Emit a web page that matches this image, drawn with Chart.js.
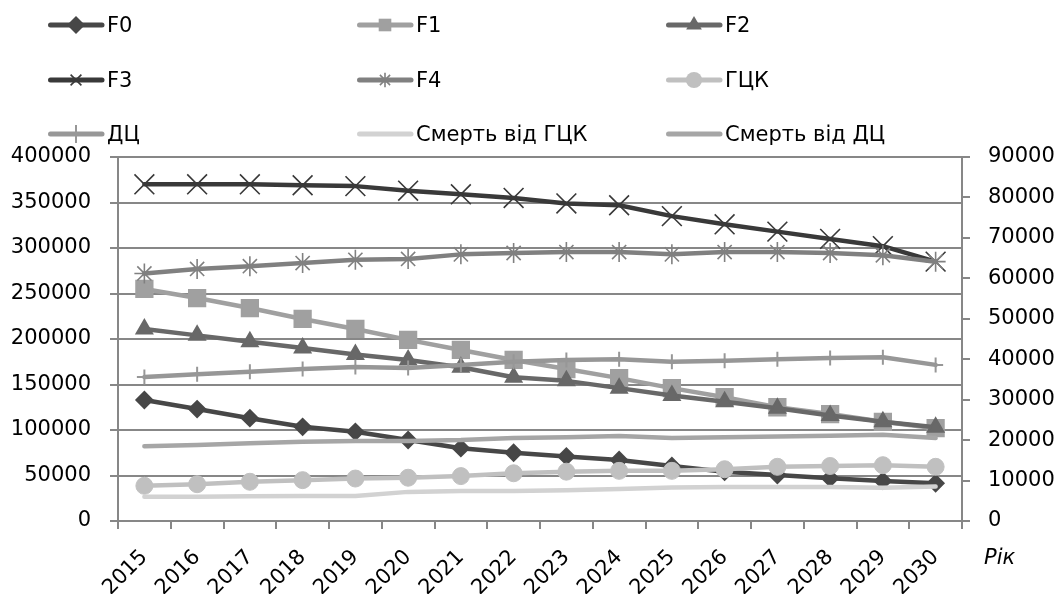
<!DOCTYPE html>
<html>
<head>
<meta charset="utf-8">
<script src="https://cdn.jsdelivr.net/npm/chart.js@4/dist/chart.umd.min.js"></script>
<style>
  html,body{margin:0;padding:0;background:#fff;}
  #wrap{position:relative;width:1057px;height:594px;font-family:"DejaVu Sans",sans-serif;}
  #c{position:absolute;left:0;top:0;}
  .leg{position:absolute;height:24px;line-height:24px;font-size:21px;color:#000;white-space:nowrap;}
  .leg svg{position:absolute;left:0;top:0;}
  .leg span{position:absolute;top:0;}
  #rik{position:absolute;left:984px;top:545px;font-size:21px;font-style:italic;color:#000;}
</style>
</head>
<body>
<div id="wrap">
  <canvas id="c" width="1057" height="594"></canvas>
  <div id="legend"></div>
  <div id="rik">Рік</div>
</div>
<script>
const years = ['2015','2016','2017','2018','2019','2020','2021','2022','2023','2024','2025','2026','2027','2028','2029','2030'];

// left axis (0 – 400000)
const F0 = [133000,123000,113000,103500,98000,89000,80000,75000,71000,67000,60500,54000,50500,47000,44000,41500];
const F1 = [255000,245000,234000,222000,211000,199000,188000,177000,167000,157000,146000,136000,125000,117500,109000,102000];
const F2 = [211000,204000,197000,190000,183000,177000,169000,158000,154000,146000,138000,131000,124000,116000,109000,103000];
const F3 = [370000,370000,370000,369000,368000,363000,359000,355000,349000,347000,335000,326000,318000,310000,302000,285000];
const F4 = [272000,277000,280000,283500,287000,288000,293000,294500,295500,295500,293000,295500,295500,294500,292000,285000];

// right axis (0 – 90000)
const GCK = [8700,9100,9700,10100,10500,10700,11100,11800,12200,12400,12400,12800,13400,13600,13800,13400];
const DC = [35600,36300,36900,37600,38100,37800,38600,39400,39800,40000,39400,39600,40000,40300,40500,38600];
const deathGCK = [6000,6000,6100,6200,6200,7200,7400,7400,7600,7900,8300,8400,8400,8400,8200,8500];
const deathDC = [18500,18800,19200,19600,19800,19800,20000,20500,20700,21000,20500,20700,20900,21100,21300,20500];

const seriesNames = ['F0','F1','F2','F3','F4','ГЦК','ДЦ','Смерть від ГЦК','Смерть від ДЦ'];
const seriesData = [F0,F1,F2,F3,F4,GCK,DC,deathGCK,deathDC];
const seriesAxis = ['y','y','y','y','y','y1','y1','y1','y1'];
const seriesColor = ['#474747','#a0a0a0','#686868','#393939','#808080','#c0c0c0','#979797','#d2d2d2','#a6a6a6'];
const seriesShape = ['rectRot','rect','triangle','crossRot','star','circle','cross',false,false];
const seriesRadius = [8,11.5,9,14,10,8.5,7.5,0,0];
const seriesPtBorder = [2,2,2,1.6,1.6,1,2,0,0];

const GRID = '#878787';
const FONT = {family:'"DejaVu Sans", sans-serif', size:21};
const plain = v => String(v);

const datasets = seriesNames.map((n,i)=>({
  label:n,
  data:seriesData[i],
  yAxisID:seriesAxis[i],
  borderColor:seriesColor[i],
  backgroundColor:seriesColor[i],
  borderWidth:4.5,
  borderCapStyle:'round',
  borderJoinStyle:'round',
  pointStyle:seriesShape[i],
  pointRadius:seriesRadius[i],
  pointBorderWidth:seriesPtBorder[i],
  pointBorderColor:seriesColor[i],
  pointBackgroundColor:seriesColor[i],
  tension:0,
  order:seriesNames.length - i
}));

new Chart(document.getElementById('c'), {
  type:'line',
  data:{labels:years, datasets},
  options:{
    responsive:false,
    animation:false,
    events:[],
    layout:{padding:{top:157,left:0,right:0,bottom:0}},
    plugins:{legend:{display:false}, tooltip:{enabled:false}},
    scales:{
      x:{
        offset:true,
        grid:{offset:true, drawOnChartArea:false, color:GRID, lineWidth:2, tickLength:8},
        border:{color:GRID, width:2},
        ticks:{minRotation:45, maxRotation:45, color:'#000', font:FONT, padding:16},
        afterFit(s){ s.height = 73; }
      },
      y:{
        min:0, max:400000,
        ticks:{stepSize:50000, color:'#000', font:FONT, padding:19, callback:plain},
        grid:{color:GRID, lineWidth:2, tickLength:8},
        border:{color:GRID, width:2},
        afterFit(s){ s.width = 118; }
      },
      y1:{
        position:'right',
        min:0, max:90000,
        ticks:{stepSize:10000, color:'#000', font:FONT, padding:18, callback:plain},
        grid:{drawOnChartArea:false, color:GRID, lineWidth:2, tickLength:8},
        border:{color:GRID, width:2},
        afterFit(s){ s.width = 95; }
      }
    }
  }
});

// HTML legend (3 columns x 3 rows)
const legCols = [48, 357, 666];
const legRows = [25, 80, 134];
function markerSvg(shape, color, r){
  const cx = 28, cy = 12;
  let s = '';
  if (shape === 'rectRot') s = `<polygon points="${cx-r},${cy} ${cx},${cy-r} ${cx+r},${cy} ${cx},${cy+r}" fill="${color}"/>`;
  else if (shape === 'rect') { const h = r*0.7; s = `<rect x="${cx-h}" y="${cy-h}" width="${2*h}" height="${2*h}" fill="${color}"/>`; }
  else if (shape === 'triangle') s = `<polygon points="${cx},${cy-r} ${cx+r*0.87},${cy+r*0.5} ${cx-r*0.87},${cy+r*0.5}" fill="${color}"/>`;
  else if (shape === 'crossRot') { const h=r*0.6; s = `<path d="M${cx-h} ${cy-h}L${cx+h} ${cy+h}M${cx+h} ${cy-h}L${cx-h} ${cy+h}" stroke="${color}" stroke-width="1.6"/>`; }
  else if (shape === 'star') { const h=r*0.8, d=h*0.707; s = `<path d="M${cx} ${cy-h}L${cx} ${cy+h}M${cx-d} ${cy-d}L${cx+d} ${cy+d}M${cx+d} ${cy-d}L${cx-d} ${cy+d}" stroke="${color}" stroke-width="1.6"/>`; }
  else if (shape === 'circle') s = `<circle cx="${cx}" cy="${cy}" r="${r*0.9}" fill="${color}"/>`;
  else if (shape === 'cross') s = `<path d="M${cx} ${cy-r}L${cx} ${cy+r}" stroke="${color}" stroke-width="2"/>`;
  return s;
}
const legend = document.getElementById('legend');
seriesNames.forEach((n,i)=>{
  const col = i % 3, row = Math.floor(i/3);
  const d = document.createElement('div');
  d.className = 'leg';
  d.style.left = legCols[col] + 'px';
  d.style.top = (legRows[row] - 12) + 'px';
  d.style.width = '260px';
  const c = seriesColor[i];
  d.innerHTML = `<svg width="60" height="24"><line x1="2.5" y1="12" x2="54" y2="12" stroke="${c}" stroke-width="5" stroke-linecap="round"/>${markerSvg(seriesShape[i], c, 9)}</svg><span style="left:59px">${n}</span>`;
  legend.appendChild(d);
});
</script>
</body>
</html>
